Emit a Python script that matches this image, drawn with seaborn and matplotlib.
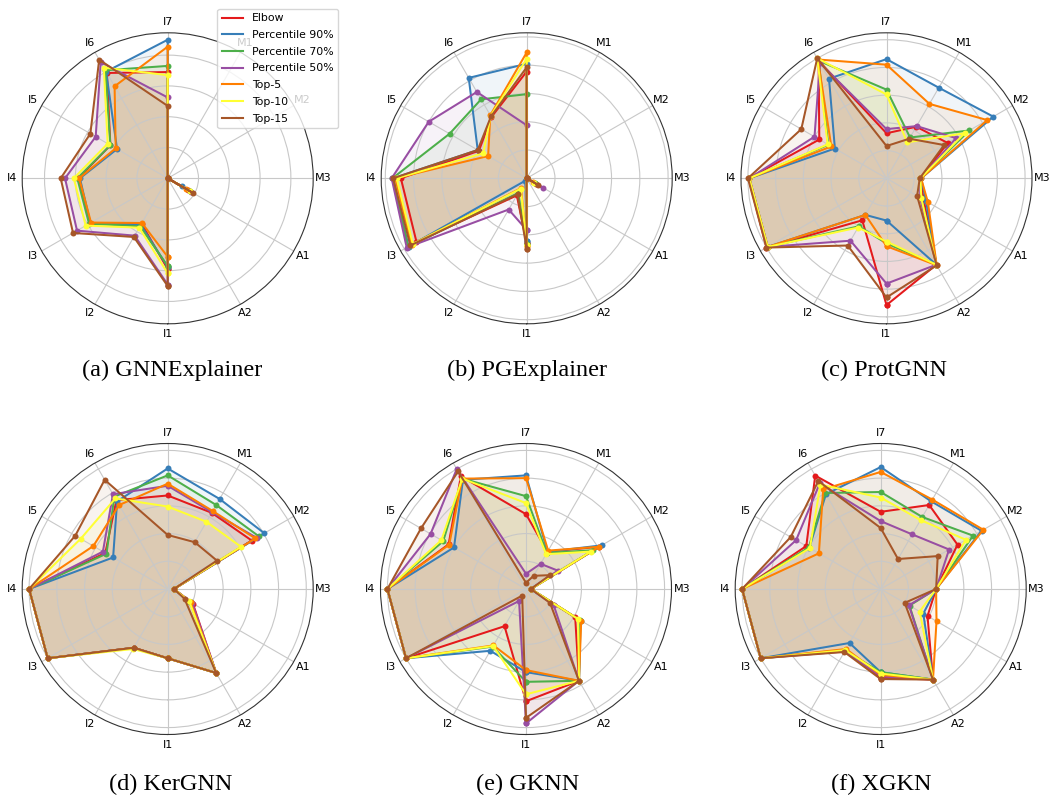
import numpy as np
import pandas as pd
import matplotlib
matplotlib.use('Agg')
import matplotlib.pyplot as plt
from matplotlib.lines import Line2D
import seaborn as sns

categories = ['I1', 'I2', 'I3', 'I4', 'I5', 'I6', 'I7', 'M1', 'M2', 'M3', 'A1', 'A2']
methods = ['Elbow', 'Percentile 90%', 'Percentile 70%', 'Percentile 50%', 'Top-5', 'Top-10', 'Top-15']

# one row per method, columns follow `categories`
gnnexplainer = [
    [0.59, 0.34, 0.58, 0.58, 0.43, 0.79, 0.69, 0.0, 0.0, 0.0, 0.155, 0.0],
    [0.575, 0.35, 0.58, 0.57, 0.38, 0.80, 0.90, 0.0, 0.0, 0.0, 0.105, 0.0],
    [0.57, 0.36, 0.59, 0.587, 0.43, 0.81, 0.73, 0.0, 0.0, 0.0, 0.17, 0.0],
    [0.69, 0.43, 0.68, 0.667, 0.54, 0.87, 0.525, 0.0, 0.0, 0.0, 0.175, 0.0],
    [0.51, 0.335, 0.575, 0.575, 0.39, 0.69, 0.855, 0.0, 0.0, 0.0, 0.135, 0.0],
    [0.617, 0.37, 0.615, 0.61, 0.45, 0.83, 0.67, 0.0, 0.0, 0.0, 0.165, 0.0],
    [0.70, 0.44, 0.71, 0.695, 0.58, 0.89, 0.47, 0.0, 0.0, 0.0, 0.19, 0.0],
]
pgexplainer = [
    [0.46, 0.14, 0.90, 0.89, 0.39, 0.50, 0.755, 0.0, 0.0, 0.0, 0.08, 0.0],
    [0.445, 0.02, 0.965, 0.945, 0.40, 0.82, 0.81, 0.0, 0.0, 0.0, 0.0, 0.0],
    [0.465, 0.12, 0.97, 0.95, 0.63, 0.645, 0.595, 0.0, 0.0, 0.0, 0.07, 0.0],
    [0.366, 0.255, 0.98, 0.955, 0.80, 0.705, 0.375, 0.0, 0.0, 0.0, 0.137, 0.0],
    [0.48, 0.08, 0.94, 0.93, 0.315, 0.515, 0.89, 0.0, 0.0, 0.0, 0.055, 0.0],
    [0.47, 0.085, 0.93, 0.92, 0.355, 0.51, 0.845, 0.0, 0.0, 0.0, 0.06, 0.0],
    [0.50, 0.13, 0.95, 0.945, 0.40, 0.505, 0.785, 0.0, 0.0, 0.0, 0.09, 0.0],
]
protgnn = [
    [0.915, 0.35, 1.0, 0.995, 0.56, 0.98, 0.325, 0.43, 0.51, 0.245, 0.31, 0.72],
    [0.305, 0.305, 0.99, 0.99, 0.43, 0.83, 0.86, 0.755, 0.89, 0.25, 0.33, 0.72],
    [0.47, 0.40, 0.99, 0.99, 0.485, 0.98, 0.64, 0.34, 0.69, 0.245, 0.29, 0.72],
    [0.76, 0.52, 0.99, 0.99, 0.60, 0.96, 0.355, 0.435, 0.58, 0.245, 0.28, 0.72],
    [0.49, 0.305, 0.99, 0.99, 0.46, 0.99, 0.82, 0.62, 0.84, 0.25, 0.345, 0.725],
    [0.457, 0.41, 0.99, 0.99, 0.49, 1.0, 0.605, 0.30, 0.65, 0.245, 0.29, 0.72],
    [0.86, 0.56, 1.0, 1.0, 0.71, 1.0, 0.233, 0.33, 0.48, 0.24, 0.255, 0.725],
]
kergnn = [
    [0.50, 0.49, 1.0, 1.0, 0.52, 0.74, 0.675, 0.635, 0.70, 0.045, 0.21, 0.70],
    [0.50, 0.49, 1.0, 1.0, 0.455, 0.73, 0.87, 0.75, 0.805, 0.045, 0.19, 0.70],
    [0.50, 0.49, 1.0, 1.0, 0.51, 0.77, 0.82, 0.70, 0.76, 0.045, 0.185, 0.70],
    [0.50, 0.49, 1.0, 1.0, 0.54, 0.79, 0.745, 0.64, 0.74, 0.045, 0.205, 0.70],
    [0.50, 0.49, 1.0, 1.0, 0.62, 0.70, 0.76, 0.65, 0.73, 0.045, 0.19, 0.70],
    [0.50, 0.50, 1.0, 1.0, 0.725, 0.755, 0.595, 0.56, 0.61, 0.045, 0.18, 0.70],
    [0.50, 0.49, 1.0, 1.0, 0.77, 0.91, 0.39, 0.39, 0.41, 0.045, 0.14, 0.70],
]
gknn = [
    [0.81, 0.31, 1.0, 1.0, 0.645, 0.94, 0.54, 0.31, 0.61, 0.035, 0.41, 0.765],
    [0.60, 0.515, 1.0, 1.0, 0.60, 0.91, 0.82, 0.31, 0.63, 0.035, 0.455, 0.765],
    [0.67, 0.48, 1.0, 1.0, 0.69, 0.92, 0.67, 0.30, 0.56, 0.035, 0.45, 0.765],
    [0.97, 0.10, 1.0, 1.0, 0.795, 1.0, 0.11, 0.21, 0.265, 0.035, 0.23, 0.765],
    [0.585, 0.47, 1.0, 1.0, 0.64, 0.92, 0.80, 0.32, 0.61, 0.035, 0.46, 0.765],
    [0.76, 0.475, 1.0, 1.0, 0.705, 0.92, 0.62, 0.29, 0.54, 0.035, 0.435, 0.765],
    [0.93, 0.055, 1.0, 1.0, 0.875, 0.98, 0.045, 0.11, 0.20, 0.035, 0.20, 0.765],
]
xgkn = [
    [0.64, 0.51, 1.0, 1.0, 0.62, 0.945, 0.557, 0.70, 0.64, 0.40, 0.39, 0.755],
    [0.60, 0.45, 1.0, 1.0, 0.595, 0.79, 0.88, 0.73, 0.84, 0.40, 0.355, 0.755],
    [0.60, 0.515, 1.0, 1.0, 0.60, 0.80, 0.70, 0.60, 0.77, 0.40, 0.24, 0.755],
    [0.63, 0.52, 1.0, 1.0, 0.705, 0.88, 0.49, 0.455, 0.57, 0.40, 0.235, 0.755],
    [0.62, 0.50, 1.0, 1.0, 0.515, 0.83, 0.845, 0.745, 0.855, 0.40, 0.465, 0.755],
    [0.61, 0.51, 1.0, 1.0, 0.59, 0.87, 0.66, 0.575, 0.71, 0.40, 0.325, 0.755],
    [0.65, 0.525, 1.0, 1.0, 0.75, 0.90, 0.44, 0.25, 0.475, 0.40, 0.20, 0.755],
]

titles = ['(a) GNNExplainer', '(b) PGExplainer', '(c) ProtGNN',
          '(d) KerGNN', '(e) GKNN', '(f) XGKN']
datasets = [gnnexplainer, pgexplainer, protgnn, kergnn, gknn, xgkn]

colors = sns.color_palette('Set1', 7)

W, H = 1050, 796
fig = plt.figure(figsize=(W / 100, H / 100), dpi=100)

# pixel centres of the six radar plots and their titles
centers = [(167.7, 178.3), (526.7, 178.3), (886.5, 178.3),
           (167.7, 589.0), (526.0, 589.0), (880.7, 589.0)]
title_pos = [(172, 370.5), (527, 370.5), (884, 370.5),
             (171, 784), (528, 784), (881, 784)]
R = 145.5

theta = np.linspace(0, 2 * np.pi, len(categories), endpoint=False)
theta_closed = np.append(theta, 2 * np.pi)

for i, data in enumerate(datasets):
    cx, cy = centers[i]
    ax = fig.add_axes([(cx - R) / W, 1 - (cy + R) / H, 2 * R / W, 2 * R / H],
                      projection='polar')
    ax.set_theta_offset(-np.pi / 2)
    ax.set_theta_direction(-1)

    rows = []
    for m, vals in zip(methods, data):
        for t, v in zip(theta_closed, vals + vals[:1]):
            rows.append({'method': m, 'theta': t, 'value': v})
    df = pd.DataFrame(rows)

    for vals, c in zip(data, colors):
        ax.fill(theta_closed, vals + vals[:1], color=c, alpha=0.07)

    sns.lineplot(data=df, x='theta', y='value', hue='method', hue_order=methods,
                 palette=colors, sort=False, estimator=None, marker='o',
                 markersize=4.3, markeredgewidth=0, linewidth=1.45,
                 legend=False, ax=ax)

    ax.set_xlabel('')
    ax.set_ylabel('')
    ax.set_xticks(theta)
    ax.set_xticklabels(categories, fontsize=8)
    ax.tick_params(axis='x', pad=-3)
    rmax = 1.05 * max(max(v) for v in data)
    ax.set_ylim(0, rmax)
    ax.set_yticks([t for t in [0.2, 0.4, 0.6, 0.8, 1.0] if t < rmax])
    ax.set_yticklabels([])
    ax.grid(color='#c8c8c8', linewidth=0.8)
    ax.spines['polar'].set_color('#333333')

    if i == 0:
        handles = [Line2D([], [], color=c, lw=1.5) for c in colors]
        ax.legend(handles, methods, loc='upper right',
                  bbox_to_anchor=(338 / W, 1 - 9 / H), bbox_transform=fig.transFigure,
                  borderaxespad=0, fontsize=7.8, labelspacing=0.62)

    tx, ty = title_pos[i]
    fig.text(tx / W, 1 - ty / H, titles[i], ha='center', va='center',
             fontsize=17.5, family='Liberation Serif')

fig.savefig('out.png', dpi=100)
